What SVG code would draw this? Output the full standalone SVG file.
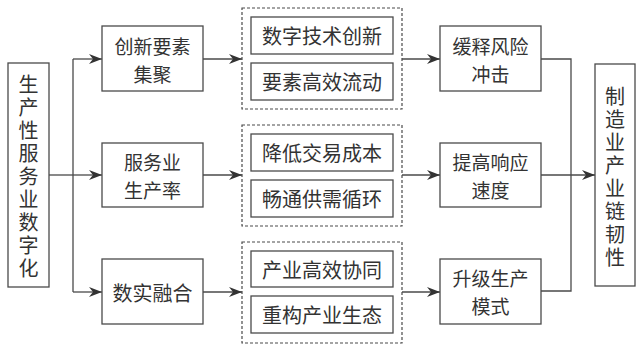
<svg xmlns="http://www.w3.org/2000/svg" width="643" height="346" viewBox="0 0 643 346">
<style>
.box{fill:#fff;stroke:#4a4a4a;stroke-width:1.3}
.dash{fill:none;stroke:#4a4a4a;stroke-width:1.2;stroke-dasharray:3 2}
.ln{fill:none;stroke:#4a4a4a;stroke-width:1.3}
text{font-family:"Noto Sans CJK SC","Noto Sans",sans-serif;font-size:20px;fill:#333;text-anchor:middle;dominant-baseline:central}
.t2{font-size:19px}
</style>
<defs>
<marker id="ah" markerWidth="14" markerHeight="10" refX="13" refY="5" orient="auto" markerUnits="userSpaceOnUse">
<path d="M0,0 L13,5 L0,10 L4,5 z" fill="#333"/>
</marker>
</defs>
<rect width="643" height="346" fill="#fff"/>
<g id="connectors">
<path class="ln" d="M49,175 H73"/>
<path class="ln" d="M73,59 V292"/>
<path class="ln" d="M73,59 H102" marker-end="url(#ah)"/>
<path class="ln" d="M73,175 H102" marker-end="url(#ah)"/>
<path class="ln" d="M73,292 H102" marker-end="url(#ah)"/>
<path class="ln" d="M203,59 H242" marker-end="url(#ah)"/>
<path class="ln" d="M203,175 H242" marker-end="url(#ah)"/>
<path class="ln" d="M203,292 H242" marker-end="url(#ah)"/>
<path class="ln" d="M402,59 H440" marker-end="url(#ah)"/>
<path class="ln" d="M402,175 H440" marker-end="url(#ah)"/>
<path class="ln" d="M402,292 H440" marker-end="url(#ah)"/>
<path class="ln" d="M541,59 H571 V291 H541"/>
<path class="ln" d="M541,175 H595" marker-end="url(#ah)"/>
</g>
<g id="n-source">
<rect class="box" x="8" y="63" width="41" height="224"/>
<text x="28.5" y="83">生</text><text x="28.5" y="106">产</text><text x="28.5" y="129">性</text><text x="28.5" y="152">服</text><text x="28.5" y="175">务</text><text x="28.5" y="198">业</text><text x="28.5" y="221">数</text><text x="28.5" y="244">字</text><text x="28.5" y="267">化</text>
</g>
<g id="n-a1">
<rect class="box" x="102" y="26" width="101" height="65"/>
<text class="t2" x="152.5" y="45">创新要素</text><text class="t2" x="152.5" y="73">集聚</text>
</g>
<g id="n-a2">
<rect class="box" x="102" y="143" width="101" height="64"/>
<text class="t2" x="152.5" y="161">服务业</text><text class="t2" x="152.5" y="189">生产率</text>
</g>
<g id="n-a3">
<rect class="box" x="102" y="259" width="101" height="65"/>
<text x="152.5" y="292">数实融合</text>
</g>
<g id="n-b1">
<rect class="dash" x="242" y="8" width="160" height="101"/>
<rect class="box" x="251" y="17" width="142" height="37"/>
<text x="322" y="35.5">数字技术创新</text>
<rect class="box" x="251" y="63" width="142" height="37"/>
<text x="322" y="81.5">要素高效流动</text>
</g>
<g id="n-b2">
<rect class="dash" x="242" y="125" width="160" height="101"/>
<rect class="box" x="251" y="134" width="142" height="37"/>
<text x="322" y="152.5">降低交易成本</text>
<rect class="box" x="251" y="180" width="142" height="37"/>
<text x="322" y="198.5">畅通供需循环</text>
</g>
<g id="n-b3">
<rect class="dash" x="242" y="242" width="160" height="101"/>
<rect class="box" x="251" y="251" width="142" height="36"/>
<text x="322" y="269">产业高效协同</text>
<rect class="box" x="251" y="296" width="142" height="37"/>
<text x="322" y="314.5">重构产业生态</text>
</g>
<g id="n-c1">
<rect class="box" x="440" y="26" width="101" height="65"/>
<text class="t2" x="490.5" y="45">缓释风险</text><text class="t2" x="490.5" y="73">冲击</text>
</g>
<g id="n-c2">
<rect class="box" x="440" y="143" width="101" height="64"/>
<text class="t2" x="490.5" y="161">提高响应</text><text class="t2" x="490.5" y="189">速度</text>
</g>
<g id="n-c3">
<rect class="box" x="440" y="259" width="101" height="65"/>
<text class="t2" x="490.5" y="277">升级生产</text><text class="t2" x="490.5" y="305">模式</text>
</g>
<g id="n-target">
<rect class="box" x="595" y="64" width="40" height="222"/>
<text x="615" y="95">制</text><text x="615" y="118">造</text><text x="615" y="141">业</text><text x="615" y="164">产</text><text x="615" y="187">业</text><text x="615" y="210">链</text><text x="615" y="233">韧</text><text x="615" y="256">性</text>
</g>
</svg>
